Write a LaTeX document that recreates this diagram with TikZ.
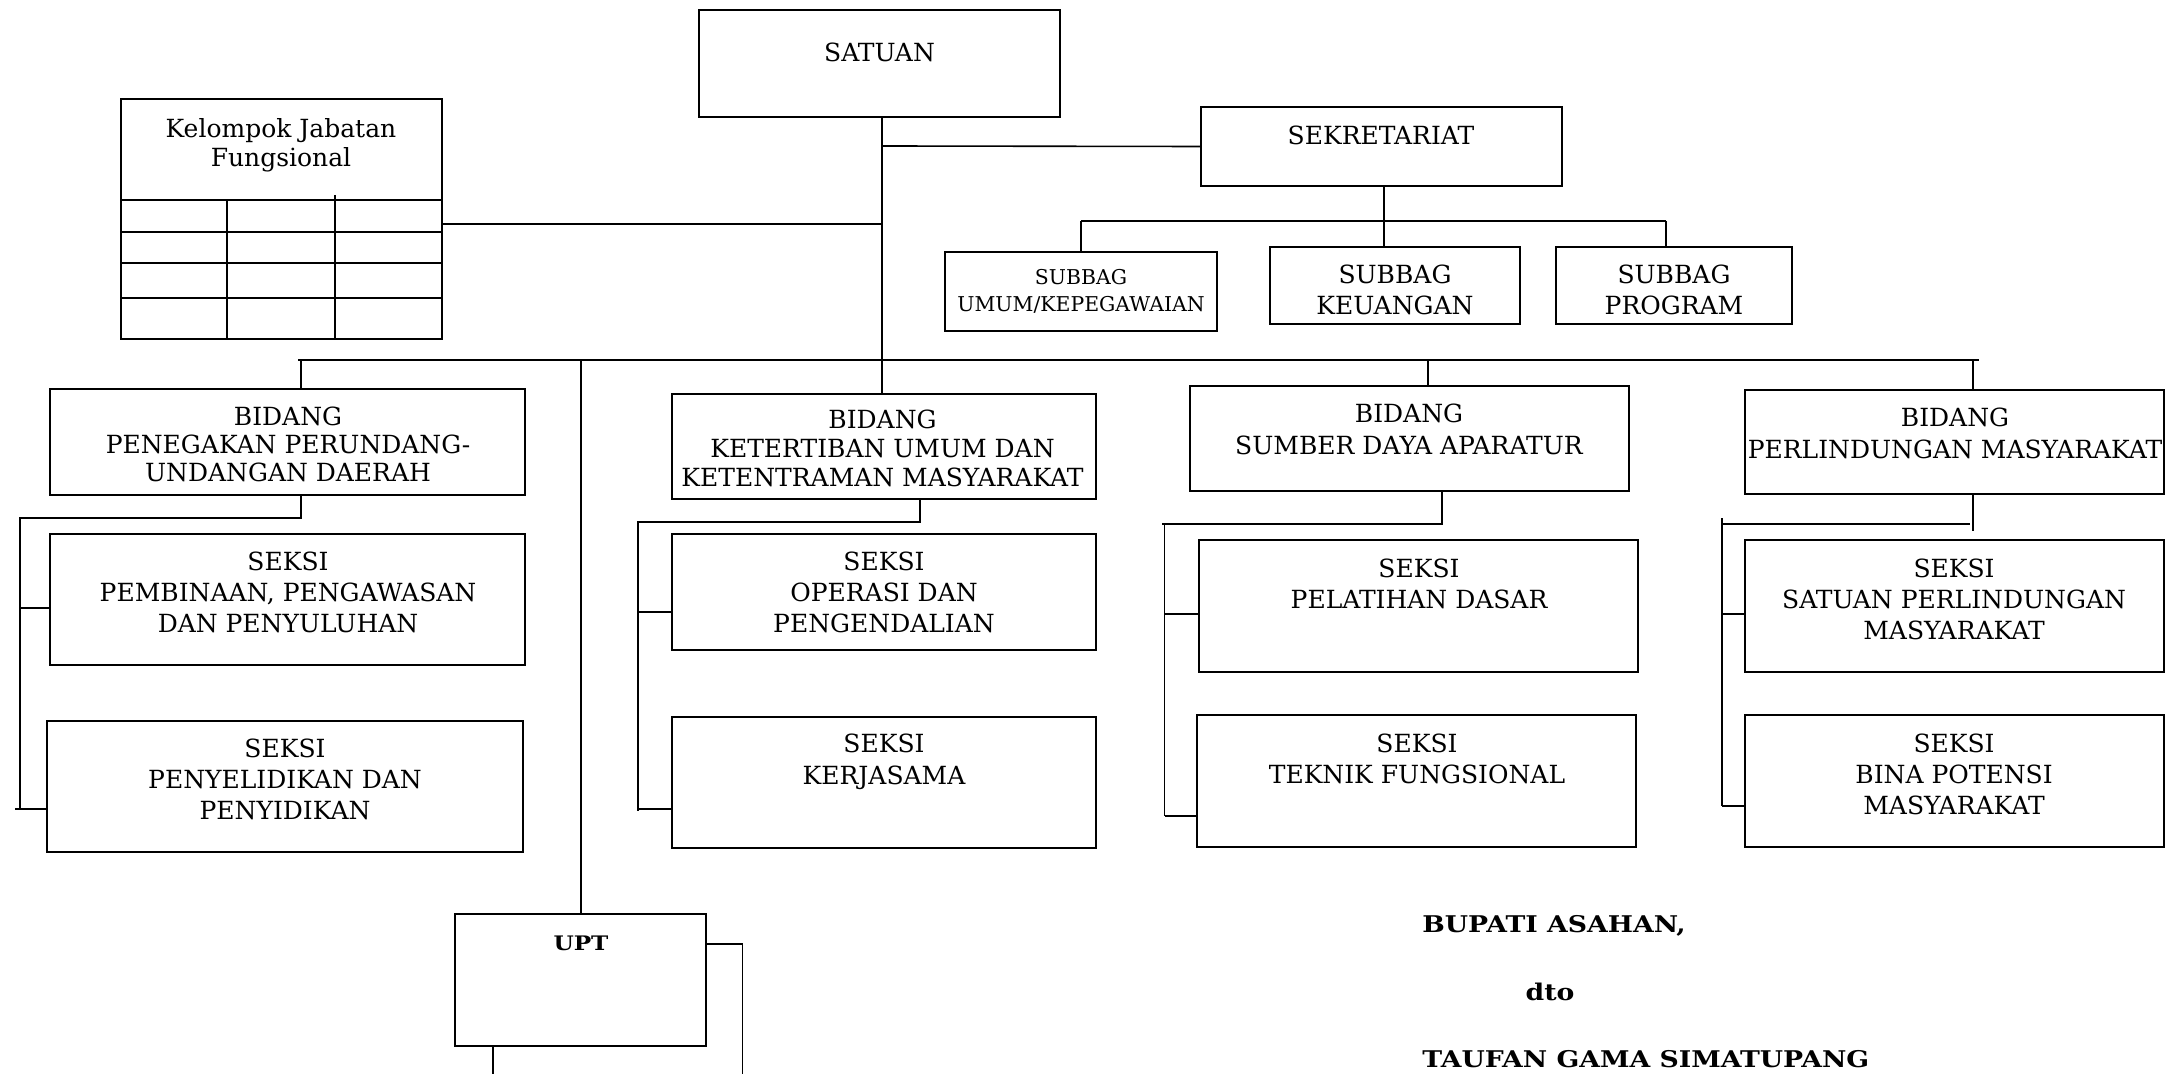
\documentclass[tikz,border=0pt]{standalone}
\usepackage{fontspec}
\setmainfont{DejaVu Serif}
\newfontfamily\sigfont{DejaVu Serif}[FakeStretch=1.16]
\usetikzlibrary{fit}
\begin{document}
\begin{tikzpicture}[x=0.5pt,y=-0.5pt,
  obox/.style={draw, line width=1pt, inner sep=0pt},
  conn/.style={line width=0.8pt},
  thin/.style={line width=0.6pt},
  btxt/.style={inner sep=0pt, align=center, anchor=north, font=\fontsize{12.5}{14.5}\selectfont},
  stxt/.style={inner sep=0pt, align=center, anchor=north, font=\fontsize{12.5}{15.3}\selectfont},
  smtxt/.style={inner sep=0pt, align=center, anchor=north, font=\fontsize{10.2}{13.5}\selectfont},
  sig/.style={inner sep=0pt, font=\sigfont\bfseries\fontsize{11.5}{13}\selectfont}]
\useasboundingbox (0,0) rectangle (2177,1074);
\newcommand{\orgbox}[5]{%
  \coordinate (#1-nw) at (#2,#3); \coordinate (#1-se) at (#4,#5);
  \node[obox, fit=(#1-nw)(#1-se)] (#1) {};}
% boxes
\orgbox{sat}{699}{10}{1060}{117}
\orgbox{sek}{1201}{107}{1562}{186}
\orgbox{kjf}{121}{99}{442}{339}
\orgbox{umum}{945}{252}{1217}{331}
\orgbox{keu}{1270}{247}{1520}{324}
\orgbox{prog}{1556}{247}{1792}{324}
\orgbox{bid1}{50}{389}{525}{495}
\orgbox{s1a}{50}{534}{525}{665}
\orgbox{s1b}{47}{721}{523}{852}
\orgbox{bid2}{672}{394}{1096}{499}
\orgbox{s2a}{672}{534}{1096}{650}
\orgbox{s2b}{672}{717}{1096}{848}
\orgbox{bid3}{1190}{386}{1629}{491}
\orgbox{s3a}{1199}{540}{1638}{672}
\orgbox{s3b}{1197}{715}{1636}{847}
\orgbox{bid4}{1745}{390}{2164}{494}
\orgbox{s4a}{1745}{540}{2164}{672}
\orgbox{s4b}{1745}{715}{2164}{847}
\orgbox{upt}{455}{914}{706}{1046}
% texts
\node[stxt] (sat-t) at (879.5,43) {SATUAN};
\node[stxt] (sek-t) at (1381,126) {SEKRETARIAT};
\node[stxt, font=\fontsize{12.5}{14.5}\selectfont] (kjf-t) at (281,118) {Kelompok Jabatan\\Fungsional};
\node[smtxt] (umum-t) at (1081,269) {SUBBAG\\UMUM/KEPEGAWAIAN};
\node[stxt] (keu-t) at (1395,265) {SUBBAG\\KEUANGAN};
\node[stxt] (prog-t) at (1674,265) {SUBBAG\\PROGRAM};
\node[btxt, font=\fontsize{12.5}{14}\selectfont] (bid1-t) at (288,407) {BIDANG\\PENEGAKAN PERUNDANG-\\UNDANGAN DAERAH};
\node[stxt] (s1a-t) at (288,552) {SEKSI\\PEMBINAAN, PENGAWASAN\\DAN PENYULUHAN};
\node[stxt] (s1b-t) at (285,739) {SEKSI\\PENYELIDIKAN DAN\\PENYIDIKAN};
\node[btxt] (bid2-t) at (882.5,410) {BIDANG\\KETERTIBAN UMUM DAN\\KETENTRAMAN MASYARAKAT};
\node[stxt] (s2a-t) at (884,552) {SEKSI\\OPERASI DAN\\PENGENDALIAN};
\node[stxt, font=\fontsize{12.5}{16}\selectfont] (s2b-t) at (884,734) {SEKSI\\KERJASAMA};
\node[stxt, font=\fontsize{12.5}{16}\selectfont] (bid3-t) at (1409,404) {BIDANG\\SUMBER DAYA APARATUR};
\node[stxt] (s3a-t) at (1419,559) {SEKSI\\PELATIHAN DASAR};
\node[stxt] (s3b-t) at (1417,734) {SEKSI\\TEKNIK FUNGSIONAL};
\node[stxt, font=\fontsize{12.5}{16}\selectfont] (bid4-t) at (1955,408) {BIDANG\\PERLINDUNGAN MASYARAKAT};
\node[stxt] (s4a-t) at (1954,559) {SEKSI\\SATUAN PERLINDUNGAN\\MASYARAKAT};
\node[stxt] (s4b-t) at (1954,734) {SEKSI\\BINA POTENSI\\MASYARAKAT};
\node[sig, font=\sigfont\bfseries\fontsize{10}{12}\selectfont, anchor=base] (upt-t) at (581,950) {UPT};
\node[sig, anchor=base west] (bup) at (1422,932) {BUPATI ASAHAN,};
\node[sig, anchor=base] (dto) at (1550,1000) {dto};
\node[sig, anchor=base west] (tau) at (1422,1067) {TAUFAN GAMA SIMATUPANG};
% KJF grid
\foreach \gy [count=\i] in {200,232,263,298} {
  \coordinate (g\i) at (0,\gy);
  \draw[conn] (kjf.west |- g\i) -- (kjf.east |- g\i);
}
\coordinate (gv1) at (227,200); \coordinate (gv2) at (335,195);
\draw[thin] (gv1) -- (gv1 |- kjf.south);
\draw[thin] (gv2) -- (gv2 |- kjf.south);
% trunk
\coordinate (j0) at (882,146);
\coordinate (jk) at (882,224);
\draw[conn] (sat.south -| j0) -- (bid2.north -| j0);
\draw[conn] (j0) -- (sek.west);
\draw[conn] (kjf.east |- jk) -- (jk);
% bus
\coordinate (busL) at (298,360); \coordinate (busR) at (1979,360);
\draw[conn] (busL) -- (busR);
\coordinate (d1) at (301,360); \draw[conn] (d1) -- (d1 |- bid1.north);
\coordinate (d2) at (581,360); \draw[thin] (d2) -- (d2 |- upt.north);
\coordinate (d3) at (1428,360); \draw[thin] (d3) -- (d3 |- bid3.north);
\coordinate (d4) at (1973,360); \draw[thin] (d4) -- (d4 |- bid4.north);
% sekretariat subtree
\coordinate (sj) at (1384,221); \coordinate (sl) at (1081,221); \coordinate (sr) at (1666,221);
\draw[conn] (sek.south -| sj) -- (sj |- keu.north);
\draw[conn] (sl) -- (sr);
\draw[thin] (sl) -- (sl |- umum.north);
\draw[thin] (sr) -- (sr |- prog.north);
% bidang 1
\coordinate (b1a) at (301,518); \coordinate (b1b) at (20,518);
\coordinate (v1a) at (20,608); \coordinate (v1b) at (15,809); \coordinate (v1e) at (20,809);
\draw[conn] (b1a |- bid1.south) -- (b1a) -- (b1b) -- (v1e);
\draw[conn] (v1a) -- (v1a -| s1a.west);
\draw[conn] (v1b) -- (v1b -| s1b.west);
% bidang 2
\coordinate (b2a) at (920,522); \coordinate (b2b) at (638,522);
\coordinate (v2a) at (638,612); \coordinate (v2b) at (638,809); \coordinate (v2e) at (638,811);
\draw[conn] (b2a |- bid2.south) -- (b2a) -- (b2b) -- (v2e);
\draw[conn] (v2a) -- (v2a -| s2a.west);
\draw[conn] (v2b) -- (v2b -| s2b.west);
% bidang 3
\coordinate (b3a) at (1442,524); \coordinate (b3b) at (1162,524);
\coordinate (v3t) at (1164.5,524); \coordinate (v3a) at (1164.5,614); \coordinate (v3b) at (1164.5,816);
\draw[conn] (b3a |- bid3.south) -- (b3a) -- (b3b);
\draw[conn] (v3t) -- (v3b);
\draw[conn] (v3a) -- (v3a -| s3a.west);
\draw[conn] (v3b) -- (v3b -| s3b.west);
% bidang 4
\coordinate (b4a) at (1973,531); \coordinate (b4h) at (1969.5,524); \coordinate (b4b) at (1721.6,524);
\coordinate (v4t) at (1722,518); \coordinate (v4a) at (1722,614); \coordinate (v4b) at (1722,806);
\draw[thin] (b4a |- bid4.south) -- (b4a);
\draw[conn] (b4h) -- (b4b);
\draw[thin] (v4t) -- (v4b);
\draw[thin] (v4a) -- (v4a -| s4a.west);
\draw[conn] (v4b) -- (v4b -| s4b.west);
% UPT
\coordinate (u1) at (742.5,944); \coordinate (u1e) at (742.5,1074);
\coordinate (u2) at (493,1074);
\draw[conn] (upt.east |- u1) -- (u1) -- (u1e);
\draw[thin] (u2 |- upt.south) -- (u2);
\end{tikzpicture}
\end{document}
